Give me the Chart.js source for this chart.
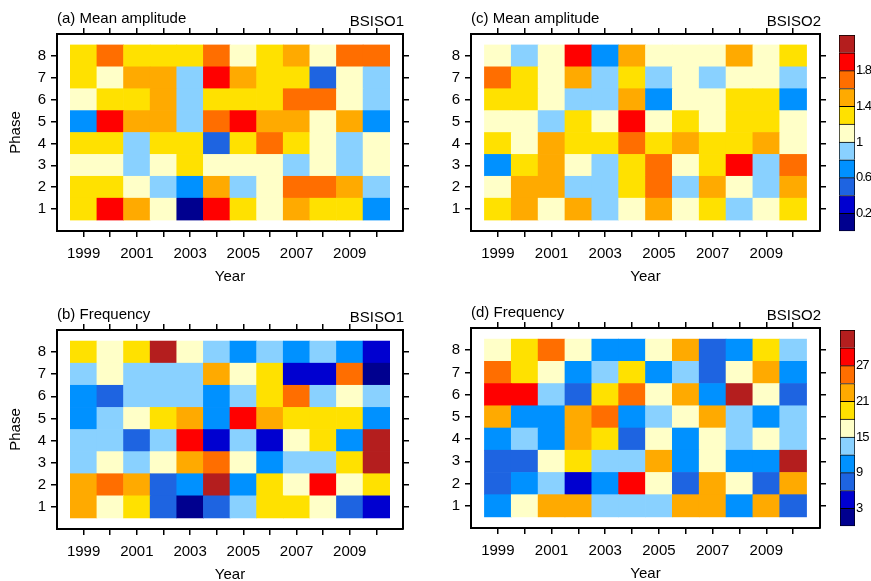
<!DOCTYPE html>
<html>
<head>
<meta charset="utf-8">
<script src="https://cdn.jsdelivr.net/npm/chart.js@4.4.0/dist/chart.umd.min.js"></script>
<style>
  html, body { margin: 0; padding: 0; background: #fff; }
  body { width: 871px; height: 581px; position: relative; overflow: hidden; }
  canvas { position: absolute; }
</style>
</head>
<body>
<canvas id="ampB1"></canvas>
<canvas id="ampB2"></canvas>
<canvas id="ampBar"></canvas>
<canvas id="freqB1"></canvas>
<canvas id="freqB2"></canvas>
<canvas id="freqBar"></canvas>
<script>
// Axes
const years = [1999, 2000, 2001, 2002, 2003, 2004, 2005, 2006, 2007, 2008, 2009, 2010];
const phases = [1, 2, 3, 4, 5, 6, 7, 8];

// Contour levels and labelled colorbar ticks
const ampLevels = [0.2, 0.4, 0.6, 0.8, 1.0, 1.2, 1.4, 1.6, 1.8, 2.0];
const freqLevels = [3, 6, 9, 12, 15, 18, 21, 24, 27, 30];
const ampBarTicks = [0.2, 0.6, 1.0, 1.4, 1.8];
const freqBarTicks = [3, 9, 15, 21, 27];

// Each table: rows run from phase 8 (top) down to phase 1, columns 1999..2010
const ampBsiso1 = [
  [1.3, 1.7, 1.3, 1.3, 1.3, 1.7, 1.1, 1.3, 1.5, 1.1, 1.7, 1.7],
  [1.3, 1.1, 1.5, 1.5, 0.9, 1.9, 1.5, 1.3, 1.3, 0.5, 1.1, 0.9],
  [1.1, 1.3, 1.3, 1.5, 0.9, 1.3, 1.3, 1.3, 1.7, 1.7, 1.1, 0.9],
  [0.7, 1.9, 1.5, 1.5, 0.9, 1.7, 1.9, 1.5, 1.5, 1.1, 1.5, 0.7],
  [1.3, 1.3, 0.9, 1.3, 1.3, 0.5, 1.3, 1.7, 1.3, 1.1, 0.9, 1.1],
  [1.1, 1.1, 0.9, 1.1, 1.3, 1.1, 1.1, 1.1, 0.9, 1.1, 0.9, 1.1],
  [1.3, 1.3, 1.1, 0.9, 0.7, 1.5, 0.9, 1.1, 1.7, 1.7, 1.5, 0.9],
  [1.3, 1.9, 1.5, 1.1, 0.1, 1.9, 1.3, 1.1, 1.5, 1.3, 1.3, 0.7]
];
const ampBsiso2 = [
  [1.1, 0.9, 1.1, 1.9, 0.7, 1.5, 1.1, 1.1, 1.1, 1.5, 1.1, 1.3],
  [1.7, 1.3, 1.1, 1.5, 0.9, 1.3, 0.9, 1.1, 0.9, 1.1, 1.1, 0.9],
  [1.3, 1.3, 1.1, 0.9, 0.9, 1.5, 0.7, 1.1, 1.1, 1.3, 1.3, 0.7],
  [1.1, 1.1, 0.9, 1.3, 1.1, 1.9, 1.1, 1.3, 1.1, 1.3, 1.3, 1.1],
  [1.3, 1.1, 1.5, 1.3, 1.3, 1.7, 1.3, 1.5, 1.3, 1.3, 1.5, 1.1],
  [0.7, 1.3, 1.5, 1.1, 0.9, 1.3, 1.7, 1.1, 1.3, 1.9, 0.9, 1.7],
  [1.1, 1.5, 1.5, 0.9, 0.9, 1.3, 1.7, 0.9, 1.5, 1.1, 0.9, 1.5],
  [1.3, 1.5, 1.1, 1.5, 0.9, 1.1, 1.5, 1.1, 1.3, 0.9, 1.1, 1.3]
];
const freqBsiso1 = [
  [19, 16, 19, 31, 16, 13, 10, 13, 10, 13, 10, 4],
  [13, 16, 13, 13, 13, 22, 16, 19, 4, 4, 25, 1],
  [10, 7, 13, 13, 13, 10, 13, 19, 25, 13, 16, 13],
  [10, 13, 16, 19, 22, 10, 28, 22, 19, 19, 19, 10],
  [13, 13, 7, 13, 28, 4, 13, 4, 16, 19, 10, 31],
  [13, 16, 13, 16, 22, 25, 16, 10, 13, 13, 19, 31],
  [22, 25, 22, 7, 10, 31, 10, 19, 16, 28, 16, 19],
  [22, 16, 19, 7, 1, 7, 13, 19, 19, 16, 7, 4]
];
const freqBsiso2 = [
  [16, 19, 25, 16, 10, 10, 16, 22, 7, 10, 19, 13],
  [25, 19, 16, 10, 13, 19, 10, 13, 7, 16, 22, 10],
  [28, 28, 13, 7, 19, 25, 16, 22, 10, 31, 16, 7],
  [22, 10, 10, 22, 25, 10, 13, 16, 22, 13, 10, 13],
  [10, 13, 10, 22, 19, 7, 16, 10, 16, 13, 16, 13],
  [7, 7, 16, 19, 13, 13, 22, 10, 16, 10, 10, 31],
  [7, 10, 13, 4, 10, 28, 16, 7, 22, 16, 7, 22],
  [10, 16, 22, 22, 13, 13, 13, 22, 22, 10, 22, 7]
];

// Blue-yellow-red fill colours, one more than the number of levels
const palette = ['#00008f', '#0000d0', '#1e64e1', '#0091ff', '#89d1ff', '#ffffc8',
                 '#ffe100', '#ffaa00', '#ff6e00', '#ff0000', '#b41e1e'];

const FONT = '"Liberation Sans", Arial, Helvetica, sans-serif';
Chart.defaults.font.family = FONT;
Chart.defaults.font.size = 15;
Chart.defaults.color = '#000';

function colorFor(v, levels) {
  let i = 0;
  while (i < levels.length && v >= levels[i]) i++;
  return palette[i];
}

function place(cv, box) {
  cv.width = box.w;
  cv.height = box.h;
  cv.style.left = box.x + 'px';
  cv.style.top = box.y + 'px';
  cv.style.width = box.w + 'px';
  cv.style.height = box.h + 'px';
}

// "(a) Mean amplitude" on the left, "BSISO1" on the right, above the frame
const panelTitles = {
  id: 'panelTitles',
  afterDraw(chart, args, opts) {
    const { ctx, chartArea } = chart;
    ctx.save();
    ctx.font = '15px ' + FONT;
    ctx.fillStyle = '#000';
    ctx.textBaseline = 'alphabetic';
    ctx.textAlign = 'left';
    ctx.fillText(opts.left, chartArea.left, chartArea.top - 11);
    ctx.textAlign = 'right';
    ctx.fillText(opts.right, chartArea.right + 1, chartArea.top - 8);
    ctx.restore();
  }
};

// colorbar labels sit in a narrow strip at the page edge, so tighten them a little
const tightLabels = {
  id: 'tightLabels',
  beforeDraw(chart) { chart.ctx.letterSpacing = '-1px'; }
};

function frameAxis(position, min, max, ticks, size, extra) {
  const horizontal = position === 'top' || position === 'bottom';
  return Object.assign({
    type: 'linear',
    position: position,
    min: min,
    max: max,
    offset: false,
    afterBuildTicks: s => { s.ticks = ticks.map(v => ({ value: v })); },
    afterFit: s => { if (horizontal) s.height = size; else s.width = size; },
    grid: { offset: false, drawOnChartArea: false, drawTicks: true, tickLength: 6, color: '#000', lineWidth: 1.5 },
    border: { display: true, color: '#000', width: 2 },
    ticks: { display: false, autoSkip: false, maxRotation: 0 }
  }, extra || {});
}

function heatPanel(id, box, frame, values, levels, titles, phaseTitle) {
  const cv = document.getElementById(id);
  place(cv, box);

  const cells = [];
  const colors = [];
  values.forEach((row, r) => {
    const phase = phases[phases.length - 1 - r];
    row.forEach((v, c) => {
      cells.push({ x: years[c], y: [phase - 0.5, phase + 0.5] });
      colors.push(colorFor(v, levels));
    });
  });

  const bottomH = box.y + box.h - frame.bottom;
  const yearTitleY = frame.bottom + 46;

  return new Chart(cv, {
    type: 'bar',
    data: {
      datasets: [{
        data: cells,
        backgroundColor: colors,
        borderWidth: 0,
        barPercentage: 1,
        categoryPercentage: 1
      }]
    },
    options: {
      responsive: false,
      animation: false,
      events: [],
      layout: { padding: 0 },
      plugins: {
        legend: { display: false },
        tooltip: { enabled: false },
        panelTitles: titles
      },
      scales: {
        x: frameAxis('bottom', 1998, 2011, years, bottomH, {
          ticks: { display: true, autoSkip: false, maxRotation: 0, padding: 8,
                   callback: v => (v % 2 ? String(v) : '') },
          title: { display: true, text: 'Year', font: { size: 15 },
                   padding: { top: 0, bottom: box.y + box.h - yearTitleY - 9 } }
        }),
        x2: frameAxis('top', 1998, 2011, years, frame.top - box.y),
        y: frameAxis('left', 0, 9, phases, frame.left - box.x, {
          ticks: { display: true, padding: 5, callback: v => String(v) },
          title: { display: phaseTitle, text: 'Phase', font: { size: 15 }, padding: { top: 7, bottom: 0 } }
        }),
        y2: frameAxis('right', 0, 9, phases, box.x + box.w - frame.right)
      }
    },
    plugins: [panelTitles]
  });
}

function colorBar(id, box, area, levels, tickVals) {
  const cv = document.getElementById(id);
  place(cv, box);
  const step = levels[1] - levels[0];
  const lo = levels[0] - step;
  const hi = levels[levels.length - 1] + step;
  const datasets = palette.map((c, i) => ({
    data: [[lo + i * step, lo + (i + 1) * step]],
    backgroundColor: c,
    borderColor: '#000',
    borderWidth: 1,
    borderSkipped: i ? 'bottom' : false,
    barPercentage: 1,
    categoryPercentage: 1,
    grouped: false
  }));
  return new Chart(cv, {
    type: 'bar',
    data: { labels: [''], datasets: datasets },
    options: {
      responsive: false,
      animation: false,
      events: [],
      layout: { padding: { left: area.left - box.x, top: area.top - box.y, bottom: box.y + box.h - area.bottom, right: 0 } },
      plugins: { legend: { display: false }, tooltip: { enabled: false } },
      scales: {
        x: { display: false },
        y: {
          position: 'right',
          min: lo,
          max: hi,
          afterBuildTicks: s => { s.ticks = tickVals.map(v => ({ value: v })); },
          afterFit: s => { s.width = box.x + box.w - area.right; },
          grid: { display: false, drawTicks: false },
          border: { display: false },
          ticks: { padding: 1, font: { size: 13 }, callback: v => String(v) }
        }
      }
    },
    plugins: [tightLabels]
  });
}

heatPanel('ampB1', { x: 0, y: 0, w: 425, h: 295 }, { left: 57, top: 34, right: 403, bottom: 231 },
  ampBsiso1, ampLevels, { left: '(a) Mean amplitude', right: 'BSISO1' }, true);
heatPanel('ampB2', { x: 440, y: 0, w: 390, h: 295 }, { left: 471, top: 34, right: 820, bottom: 231 },
  ampBsiso2, ampLevels, { left: '(c) Mean amplitude', right: 'BSISO2' }, false);
colorBar('ampBar', { x: 832, y: 25, w: 39, h: 215 }, { left: 839, top: 35, right: 855, bottom: 232 },
  ampLevels, ampBarTicks);

heatPanel('freqB1', { x: 0, y: 295, w: 425, h: 300 }, { left: 57, top: 330, right: 403, bottom: 529 },
  freqBsiso1, freqLevels, { left: '(b) Frequency', right: 'BSISO1' }, true);
heatPanel('freqB2', { x: 440, y: 295, w: 390, h: 300 }, { left: 471, top: 328, right: 820, bottom: 528 },
  freqBsiso2, freqLevels, { left: '(d) Frequency', right: 'BSISO2' }, false);
colorBar('freqBar', { x: 832, y: 320, w: 39, h: 215 }, { left: 840, top: 330, right: 855, bottom: 527 },
  freqLevels, freqBarTicks);
</script>
</body>
</html>
